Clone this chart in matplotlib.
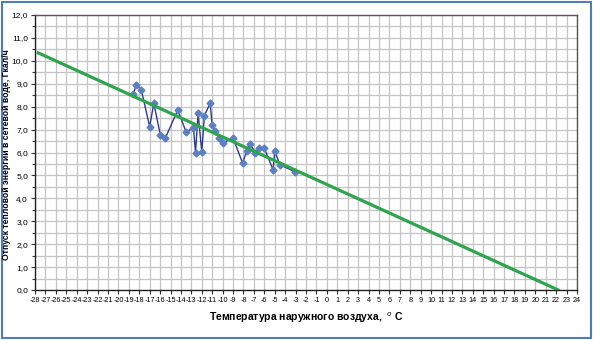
import matplotlib
matplotlib.use("Agg")
import matplotlib.pyplot as plt
from matplotlib.patches import Rectangle
from matplotlib.ticker import MultipleLocator, FuncFormatter

plt.rcParams['font.family'] = ['Liberation Sans', 'DejaVu Sans']

# measured data
temp = [-18.55, -18.3, -17.8, -17.0, -16.6, -15.98, -15.5, -14.3, -13.5, -12.8,
        -12.6, -12.35, -12.0, -11.75, -11.2, -11.0, -10.76, -10.3, -10.0, -9.0,
        -8.07, -7.7, -7.4, -6.85, -6.5, -6.0, -5.15, -5.0, -4.5, -3.1]
heat = [8.56, 8.95, 8.73, 7.13, 8.15, 6.77, 6.62, 7.86, 6.89, 7.09,
        6.0, 7.71, 6.03, 7.6, 8.15, 7.2, 6.94, 6.62, 6.43, 6.62,
        5.53, 6.07, 6.38, 6.0, 6.19, 6.19, 5.24, 6.07, 5.46, 5.17]

# trend line
trend_x = [-27.7, 22.2]
trend_y = [10.35, 0.0]

x_ticks = list(range(-28, 25))
y_ticks = [0, 1, 2, 3, 4, 5, 6, 7, 8, 9, 10, 11, 12]

fig = plt.figure(figsize=(5.93, 3.40), dpi=100)
fig.patch.set_facecolor('white')
fig.add_artist(Rectangle((0.004, 0.006), 0.992, 0.988, transform=fig.transFigure,
                         fill=False, edgecolor='#4f7db8', linewidth=1.5))

ax = fig.add_axes([35/593, 1-290/340, (577-35)/593, (290-15)/340])
ax.set_xlim(-28, 24)
ax.set_ylim(0, 12)

ax.xaxis.set_major_locator(MultipleLocator(1))
ax.yaxis.set_major_locator(MultipleLocator(1))
ax.yaxis.set_minor_locator(MultipleLocator(0.5))
ax.grid(which='major', color='#c4c4c4', linewidth=0.9)
ax.grid(which='minor', axis='y', color='#c4c4c4', linewidth=0.9)
ax.set_axisbelow(True)

ax.set_xticks(x_ticks)
ax.set_xticklabels([str(v) for v in x_ticks], fontsize=5.2)
ax.set_yticks(y_ticks)
ax.yaxis.set_major_formatter(FuncFormatter(lambda v, p: f"{v:.1f}".replace('.', ',')))
ax.tick_params(axis='y', labelsize=6.0, length=3, width=0.8, color='#333333', pad=2)
ax.tick_params(axis='y', which='minor', length=2, width=0.8, color='#333333')
ax.tick_params(axis='x', length=3, width=0.8, color='#333333', pad=2)

for s in ['top', 'right']:
    ax.spines[s].set_color('#555555')
    ax.spines[s].set_linewidth(1.0)
for s in ['left', 'bottom']:
    ax.spines[s].set_color('#222222')
    ax.spines[s].set_linewidth(1.0)

ax.plot(temp, heat, color='#2e3a8c', linewidth=1.0, marker='D', markersize=3.5,
        markerfacecolor='#5b80c4', markeredgecolor='#5b80c4', zorder=3)
ax.plot(trend_x, trend_y, color='#2ea44f', linewidth=2.3, zorder=4)

fig.text(6.5/593, 1-155/340, 'Отпуск тепловой энергии в сетевой воде, Гкал/ч',
         fontsize=6.2, fontweight='bold', rotation=90, ha='center', va='center')
ax.set_xlabel('Температура наружного воздуха,  $^{o}$ С', fontsize=7.5,
              fontweight='bold', labelpad=5)

fig.savefig('out.png', dpi=100)
